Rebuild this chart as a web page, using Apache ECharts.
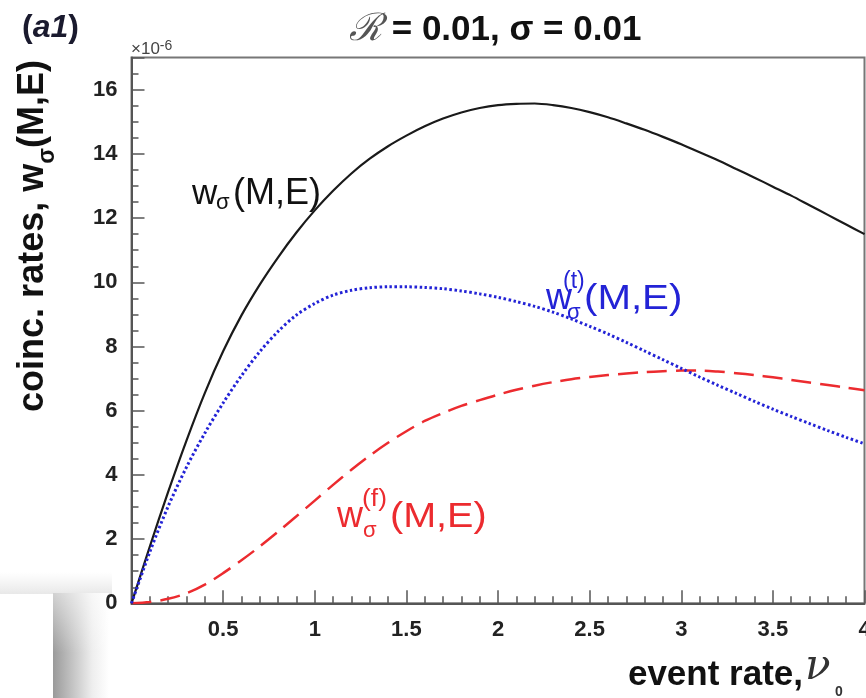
<!DOCTYPE html>
<html>
<head>
<meta charset="utf-8">
<script src="https://cdn.jsdelivr.net/npm/echarts@6/dist/echarts.min.js"></script>
<style>
  html, body { margin: 0; padding: 0; background: #ffffff; }
  #main { width: 866px; height: 698px; }
</style>
</head>
<body>
<div id="main"></div>
<script>
// event rate nu_0 (x axis)
const eventRate = [0.0, 0.1, 0.2, 0.3, 0.4, 0.5, 0.6, 0.7, 0.8, 0.9,
                   1.0, 1.1, 1.2, 1.3, 1.4, 1.5, 1.6, 1.7, 1.8, 1.9,
                   2.0, 2.1, 2.2, 2.3, 2.4, 2.5, 2.6, 2.7, 2.8, 2.9,
                   3.0, 3.1, 3.2, 3.3, 3.4, 3.5, 3.6, 3.7, 3.8, 3.9, 4.0];

// total coincidence rate w_sigma(M,E), units of 1e-6
const wTotal = [0, 1.77, 3.47, 5.07, 6.55, 7.85, 8.97, 9.93, 10.78, 11.55,
                12.24, 12.85, 13.39, 13.85, 14.24, 14.57, 14.86, 15.10, 15.29, 15.43,
                15.52, 15.56, 15.57, 15.52, 15.43, 15.30, 15.14, 14.95, 14.75, 14.53,
                14.30, 14.05, 13.80, 13.53, 13.26, 12.98, 12.70, 12.40, 12.10, 11.80, 11.50];

// true coincidences w_sigma^(t)(M,E)
const wTrue = [0, 1.60, 3.02, 4.24, 5.30, 6.24, 7.09, 7.84, 8.47, 8.98,
               9.34, 9.60, 9.75, 9.83, 9.86, 9.86, 9.84, 9.80, 9.73, 9.64,
               9.53, 9.40, 9.25, 9.07, 8.86, 8.63, 8.39, 8.13, 7.86, 7.59,
               7.32, 7.05, 6.79, 6.54, 6.29, 6.05, 5.82, 5.60, 5.38, 5.17, 4.97];

// false coincidences w_sigma^(f)(M,E)
const wFalse = [0, 0.04, 0.14, 0.31, 0.58, 0.94, 1.34, 1.77, 2.23, 2.71,
                3.20, 3.69, 4.16, 4.60, 5.00, 5.36, 5.68, 5.93, 6.15, 6.33,
                6.50, 6.65, 6.78, 6.89, 6.98, 7.05, 7.11, 7.16, 7.20, 7.23,
                7.25, 7.25, 7.22, 7.17, 7.11, 7.04, 6.96, 6.88, 6.80, 6.72, 6.64];

const xTickStep = 0.5;
const yTickStep = 2;
const yMinorStep = 0.5;

const SANS = "'Liberation Sans', Arial, Helvetica, sans-serif";
const SERIF = "'DejaVu Serif', 'Liberation Serif', serif";

function toPairs(ys) {
  return eventRate.map((x, i) => [x, ys[i]]);
}

// plain text element; opts may carry weight, style, family, align, scaleX
function txt(x, y, text, size, color, opts) {
  opts = opts || {};
  const el = {
    type: 'text', x: x, y: y, silent: true,
    style: {
      text: text, fill: color,
      fontSize: size,
      fontWeight: opts.weight || 'normal',
      fontStyle: opts.style || 'normal',
      fontFamily: opts.family || SANS,
      align: opts.align || 'left',
      verticalAlign: 'middle'
    }
  };
  if (opts.scaleX) el.scaleX = opts.scaleX;
  return el;
}

const chart = echarts.init(document.getElementById('main'), null, { renderer: 'canvas' });

const tickColor = '#555';
const blue = '#2323d6';
const red = '#ec2b2f';

const option = {
  backgroundColor: '#ffffff',
  animation: false,
  grid: {
    left: 131.5, right: 1.5, top: 57.6, bottom: 94.7,
    containLabel: false, outerBoundsMode: 'none',
    show: true, borderColor: '#777', borderWidth: 2, backgroundColor: 'transparent'
  },
  xAxis: {
    type: 'value', min: 0, max: 4, interval: xTickStep,
    axisLine: { lineStyle: { color: tickColor, width: 2 } },
    axisTick: { inside: true, length: 13, lineStyle: { color: tickColor, width: 1.5 } },
    minorTick: { show: true, splitNumber: 5, length: 7, lineStyle: { color: tickColor, width: 1.5 } },
    splitLine: { show: false },
    axisLabel: {
      margin: 16, fontSize: 22, fontWeight: 'bold', color: '#222', fontFamily: SANS,
      formatter: v => (v === 0 ? '' : String(v))
    }
  },
  yAxis: [
    {
      type: 'value', min: 0, max: 17, interval: yTickStep,
      axisLine: { show: true, lineStyle: { color: tickColor, width: 2 } },
      axisTick: { inside: true, length: 13, lineStyle: { color: tickColor, width: 1.5 } },
      splitLine: { show: false },
      axisLabel: {
        margin: 14, fontSize: 22, fontWeight: 'bold', color: '#222', fontFamily: SANS,
        formatter: v => (v % yTickStep === 0 ? String(v) : '')
      }
    },
    {
      type: 'value', min: 0, max: 17, interval: yMinorStep, position: 'left',
      axisLine: { show: false },
      axisTick: { inside: true, length: 7, lineStyle: { color: tickColor, width: 1.5 } },
      axisLabel: { show: false },
      splitLine: { show: false }
    }
  ],
  series: [
    {
      name: 'w_sigma(M,E)', type: 'line', yAxisIndex: 0, data: toPairs(wTotal),
      showSymbol: false, smooth: 0.3, z: 3,
      lineStyle: { color: '#1a1a1a', width: 2.2, type: 'solid' }
    },
    {
      name: 'w_sigma^(t)(M,E)', type: 'line', yAxisIndex: 0, data: toPairs(wTrue),
      showSymbol: false, smooth: 0.3, z: 4,
      lineStyle: { color: blue, width: 3, type: [2.5, 2.5] }
    },
    {
      name: 'w_sigma^(f)(M,E)', type: 'line', yAxisIndex: 0, data: toPairs(wFalse),
      showSymbol: false, smooth: 0.3, z: 2,
      lineStyle: { color: red, width: 2.5, type: [20, 9] }
    }
  ],
  graphic: [
    // soft grey frame fragment in the lower-left corner
    {
      type: 'rect', silent: true, z: -10,
      shape: { x: 0, y: 572, width: 112, height: 22 },
      style: { fill: new echarts.graphic.LinearGradient(0, 0, 0, 1, [
        { offset: 0, color: 'rgba(236,236,236,0)' },
        { offset: 1, color: 'rgba(232,232,232,1)' }
      ]) }
    },
    {
      type: 'rect', silent: true, z: -9,
      shape: { x: 53, y: 593, width: 56, height: 105 },
      style: { fill: new echarts.graphic.LinearGradient(0, 0, 1, 0, [
        { offset: 0, color: '#9a9a9a' },
        { offset: 0.35, color: '#c4c4c4' },
        { offset: 0.7, color: '#eeeeee' },
        { offset: 1, color: '#ffffff' }
      ]) }
    },
    {
      type: 'rect', silent: true, z: -8,
      shape: { x: 53, y: 593, width: 56, height: 60 },
      style: { fill: new echarts.graphic.LinearGradient(0, 0, 0, 1, [
        { offset: 0, color: 'rgba(255,255,255,0.55)' },
        { offset: 1, color: 'rgba(255,255,255,0)' }
      ]) }
    },
    {
      type: 'rect', silent: true, z: -7,
      shape: { x: 0, y: 594, width: 53, height: 104 },
      style: { fill: '#ffffff' }
    },

    // panel tag
    {
      type: 'text', x: 22, y: 28, silent: true,
      style: {
        text: '{p|(}{a|a1}{p|)}', verticalAlign: 'middle', align: 'left',
        rich: {
          p: { fontSize: 32, fontWeight: 'bold', fontFamily: SANS, fill: '#1a1a2e' },
          a: { fontSize: 32, fontWeight: 'bold', fontStyle: 'italic', fontFamily: SANS, fill: '#1a1a2e' }
        }
      }
    },
    // heading
    {
      type: 'text', x: 349, y: 30, silent: true,
      style: {
        text: '{r|ℛ}{b| = 0.01, σ = 0.01}', verticalAlign: 'middle', align: 'left',
        rich: {
          r: { fontSize: 38, fontStyle: 'italic', fontFamily: SERIF, fill: '#555' },
          b: { fontSize: 35, fontWeight: 'bold', fontFamily: SANS, fill: '#111' }
        }
      }
    },
    // axis multiplier
    {
      type: 'text', x: 131, y: 49, silent: true,
      style: {
        text: '{a|×10}{b|-6}', verticalAlign: 'middle', align: 'left',
        rich: {
          a: { fontSize: 17, fontFamily: SANS, fill: '#444', lineHeight: 20 },
          b: { fontSize: 14, fontFamily: SANS, fill: '#444', verticalAlign: 'top', lineHeight: 14 }
        }
      }
    },
    // y axis title
    {
      type: 'text', x: 37, y: 236, rotation: Math.PI / 2, silent: true,
      style: {
        text: '{a|coinc. rates, w}{s|σ}{a|(M,E)}', align: 'center', verticalAlign: 'middle',
        rich: {
          a: { fontSize: 36, fontWeight: 'bold', fontFamily: SANS, fill: '#111', lineHeight: 44, verticalAlign: 'top' },
          s: { fontSize: 23, fontWeight: 'bold', fontFamily: SANS, fill: '#111', lineHeight: 23, verticalAlign: 'bottom' }
        }
      }
    },
    // x axis title
    txt(803, 675, 'event rate,', 35, '#111', { weight: 'bold', align: 'right' }),
    txt(805, 668, 'ν', 42, '#333', { style: 'italic', family: SERIF }),
    txt(835, 692, '0', 14, '#333', { weight: 'bold' }),

    // curve labels: total
    txt(192, 194, 'w', 35, '#111'),
    txt(216, 203, 'σ', 22, '#111'),
    txt(233, 194, '(M,E)', 36, '#111'),

    // curve labels: true coincidences
    txt(546, 299, 'w', 36, blue),
    txt(563, 282, '(t)', 23, blue),
    txt(567, 313, 'σ', 22, blue),
    txt(584, 299, '(M,E)', 35, blue, { scaleX: 1.15 }),

    // curve labels: false coincidences
    txt(337, 517, 'w', 36, red),
    txt(362, 500, '(f)', 23, red, { scaleX: 1.15 }),
    txt(363, 531, 'σ', 22, red),
    txt(390, 517, '(M,E)', 35, red, { scaleX: 1.13 })
  ]
};

chart.setOption(option);
</script>
</body>
</html>
